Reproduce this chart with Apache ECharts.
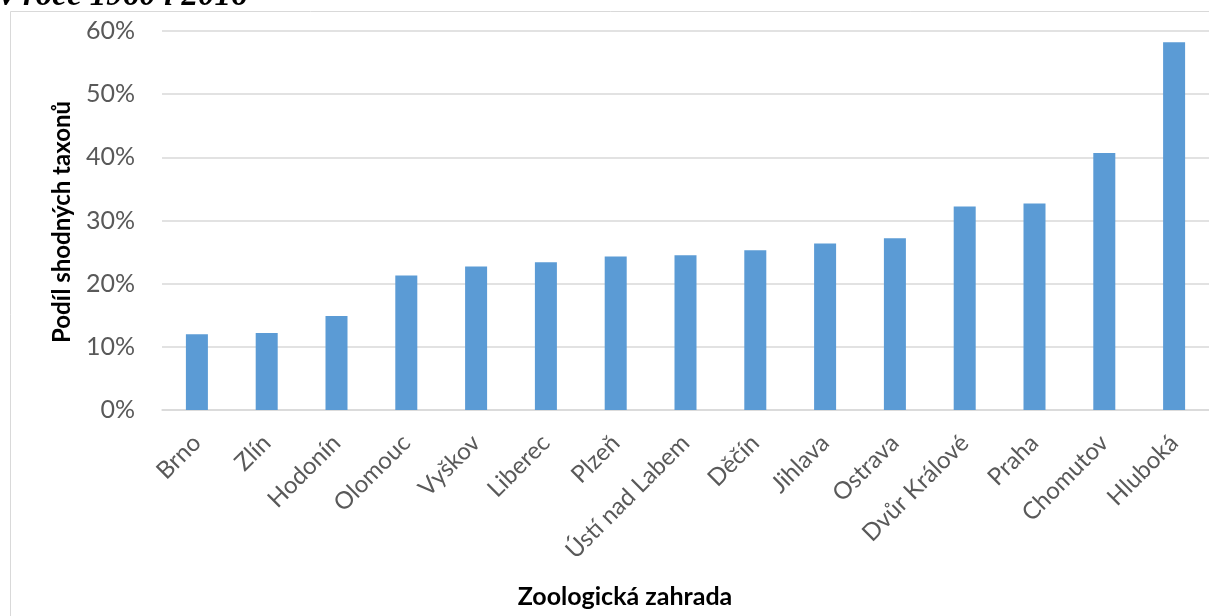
<!DOCTYPE html>
<html>
<head>
<meta charset="utf-8">
<script src="https://cdn.jsdelivr.net/npm/echarts@6/dist/echarts.min.js"></script>
<style>
html,body{margin:0;padding:0;background:#fff;}
#chart{width:1209px;height:616px;}
</style>
</head>
<body>
<div id="chart"></div>
<script>
const categories = ["Brno","Zlín","Hodonín","Olomouc","Vyškov","Liberec","Plzeň","Ústí nad Labem","Děčín","Jihlava","Ostrava","Dvůr Králové","Praha","Chomutov","Hluboká"];
const values = [12.0, 12.2, 14.9, 21.3, 22.7, 23.4, 24.3, 24.5, 25.3, 26.35, 27.2, 32.2, 32.7, 40.7, 58.2];
const yTicks = { min: 0, max: 60, interval: 10 };
const titleText = "v roce 1960 i 2016";
const yAxisTitle = "Podíl shodných taxonů";
const xAxisTitle = "Zoologická zahrada";

const chart = echarts.init(document.getElementById('chart'), null, {renderer:'canvas'});
const font = 'Lato, "Open Sans", sans-serif';
chart.setOption({
  animation: false,
  backgroundColor: '#ffffff',
  graphic: [
    { type: 'rect', shape: { x: 10.5, y: 11.5, width: 1400, height: 800 }, style: { fill: 'none', stroke: '#d9d9d9', lineWidth: 1 }, z: 0 },
    { type: 'text', x: 0, y: -4, style: { text: titleText, font: 'italic bold 33px "Liberation Serif", "DejaVu Serif", serif', fill: '#000', verticalAlign: 'middle' } },
    { type: 'text', x: 62, y: 222, rotation: Math.PI/2, style: { text: yAxisTitle, font: 'bold 24px ' + font, fill: '#000', align: 'center', verticalAlign: 'middle' } },
    { type: 'text', x: 625, y: 597, style: { text: xAxisTitle, font: 'bold 25px ' + font, fill: '#000', align: 'center', verticalAlign: 'middle' } }
  ],
  grid: { left: 162, right: -7, top: 31, bottom: 206, containLabel: false },
  xAxis: {
    type: 'category',
    data: categories,
    axisLine: { show: true, lineStyle: { color: '#d9d9d9', width: 1.5 } },
    axisTick: { show: false },
    axisLabel: { rotate: 45, interval: 0, color: '#595959', fontSize: 24, fontFamily: font, margin: 29 }
  },
  yAxis: {
    type: 'value',
    min: yTicks.min, max: yTicks.max, interval: yTicks.interval,
    axisLine: { show: false },
    axisTick: { show: false },
    splitLine: { lineStyle: { color: '#d9d9d9', width: 1.5 } },
    axisLabel: { formatter: '{value}%', color: '#595959', fontSize: 25, fontFamily: font, margin: 27 }
  },
  series: [{
    type: 'bar',
    data: values,
    barWidth: 22,
    itemStyle: { color: '#5b9bd5' }
  }]
});
</script>
</body>
</html>
